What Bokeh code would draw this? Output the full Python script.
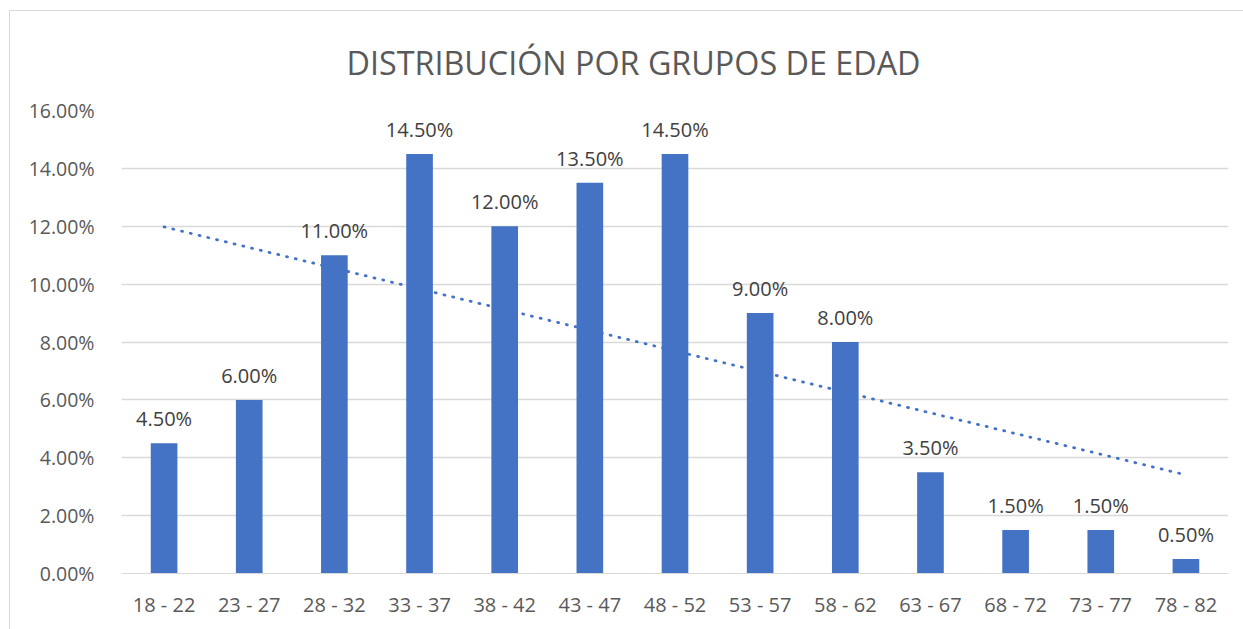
import numpy as np
from bokeh.plotting import figure
from bokeh.layouts import column
from bokeh.models import ColumnDataSource, Range1d, PrintfTickFormatter, FixedTicker
from bokeh.core.properties import value
from bokeh.embed import file_html
from bokeh.resources import INLINE

categories = ["18 - 22", "23 - 27", "28 - 32", "33 - 37", "38 - 42", "43 - 47",
              "48 - 52", "53 - 57", "58 - 62", "63 - 67", "68 - 72", "73 - 77", "78 - 82"]
values = [4.5, 6.0, 11.0, 14.5, 12.0, 13.5, 14.5, 9.0, 8.0, 3.5, 1.5, 1.5, 0.5]
y_ticks = [0, 2, 4, 6, 8, 10, 12, 14, 16]
title_text = "DISTRIBUCIÓN POR GRUPOS DE EDAD"

FONT = "Open Sans"
BLUE = "#4472C4"

labels = [f"{v:.2f}%" for v in values]
src = ColumnDataSource(dict(cat=categories, val=values, lab=labels))

p = figure(x_range=categories, y_range=Range1d(0, 16), width=1233, height=618,
           output_backend="svg", toolbar_location=None,
           min_border_left=111, min_border_right=15, min_border_bottom=56, min_border_top=98,
           title=title_text)

p.outline_line_color = None
p.background_fill_color = "white"
p.border_fill_color = "white"

p.title.align = "left"
p.title.offset = 225
p.title.text_font = FONT
p.title.text_font_size = "32.3px"
p.title.text_font_style = "normal"
p.title.text_color = "#595959"
p.title.standoff = 53

p.vbar(x="cat", top="val", width=0.313, source=src, fill_color=BLUE, line_color=None)

p.text(x="cat", y="val", text="lab", source=src, text_align="center", text_baseline="bottom",
       y_offset=-11, text_font=value(FONT), text_font_size="20px", text_color="#404040")

xs = np.arange(1, len(values) + 1)
coef = np.polyfit(xs, values, 1)
trend = np.polyval(coef, xs)
p.line(categories, trend, line_color=BLUE, line_width=2.8, line_dash="1 8", line_cap="round")

p.yaxis.ticker = FixedTicker(ticks=y_ticks)
p.yaxis.formatter = PrintfTickFormatter(format="%.2f%%")
p.yaxis.axis_line_color = None
p.yaxis.major_tick_line_color = None
p.yaxis.minor_tick_line_color = None
p.yaxis.major_label_standoff = 21
p.yaxis.major_label_text_font = FONT
p.yaxis.major_label_text_font_size = "19.5px"
p.yaxis.major_label_text_color = "#595959"

p.xaxis.axis_line_color = "#d9d9d9"
p.xaxis.major_tick_line_color = None
p.xaxis.minor_tick_line_color = None
p.xaxis.major_label_standoff = 11
p.xaxis.major_label_text_font = FONT
p.xaxis.major_label_text_font_size = "20px"
p.xaxis.major_label_text_color = "#595959"

p.xgrid.grid_line_color = None
p.ygrid.grid_line_color = "#d9d9d9"
p.ygrid.grid_line_width = 1.3

layout = column(p, margin=(10, 0, 0, 9),
                styles={"border-left": "1px solid #d9d9d9", "border-top": "1px solid #d9d9d9"})

open("out.html", "w").write(file_html(layout, INLINE))
